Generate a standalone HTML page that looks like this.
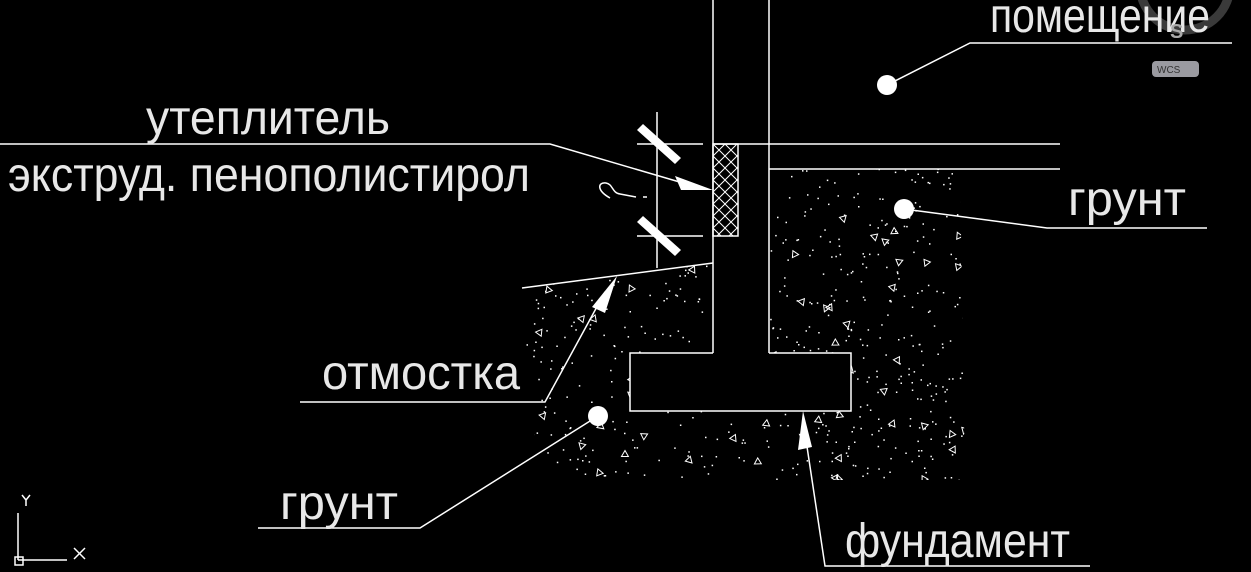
<!DOCTYPE html>
<html><head><meta charset="utf-8"><style>
html,body{margin:0;padding:0;background:#000;width:1251px;height:572px;overflow:hidden}
svg{display:block}
text{font-family:"Liberation Sans",sans-serif;fill:#e8e8e8;font-size:48px}
</style></head><body>
<svg id="s" width="1251" height="572" viewBox="0 0 1251 572" xmlns="http://www.w3.org/2000/svg">
<defs>
<pattern id="h" width="12" height="12" patternUnits="userSpaceOnUse" x="713" y="144">
<path d="M0 0L12 12M12 0L0 12" stroke="#fff" stroke-width="1"/>
</pattern>
<clipPath id="gc">
<path d="M522 288L713 263L713 353L630 353L630 411L851 411L851 353L769 353L769 169L960 169L965 480L540 480L530 400Z"/>
</clipPath>
</defs>
<circle cx="1185" cy="-15" r="45" stroke="#3a3a3a" stroke-width="9" fill="none"/>
<g id="stip" clip-path="url(#gc)"></g>
<g stroke="#fff" stroke-width="1.5" fill="none">
<line x1="713" y1="0" x2="713" y2="353"/>
<line x1="769" y1="0" x2="769" y2="353"/>
<path d="M713 353H630V411H851V353H769"/>
<line x1="713" y1="144" x2="1060" y2="144"/>
<line x1="769" y1="169" x2="1060" y2="169"/>
<rect x="713" y="144" width="25" height="92" fill="url(#h)"/>
<line x1="657" y1="112" x2="657" y2="268"/>
<line x1="637" y1="144" x2="703" y2="144"/>
<line x1="637" y1="236" x2="703" y2="236"/>
<line x1="522" y1="288" x2="713" y2="263"/>
<polyline points="0,144 550,144 700,188"/>
<polyline points="300,402 545,402 605,292"/>
<polyline points="598,416 420,528 258,528"/>
<polyline points="1090,566 825,566 806,440"/>
<polyline points="887,85 970,43 1232,43"/>
<polyline points="904,209 1047,228 1207,228"/>
<line x1="18" y1="513" x2="18" y2="560"/>
<line x1="18" y1="560" x2="67" y2="560"/>
<rect x="15" y="557" width="8" height="8"/>
<path d="M22 495L26 500L30 495M26 500V506"/>
<path d="M74 548L85 559M85 548L74 559"/>
<path d="M610 198C596 190 598 182 606 183C613 184 612 193 620 194L636 197M643 197H647"/>
</g>
<g fill="#fff">
<polygon points="713,190 675,176 681,190"/>
<polygon points="617,276 592,307 605,313"/>
<polygon points="803,411 798,450 812,447"/>
<polygon points="637,130 643,124 681,158 675,164"/>
<polygon points="637,222 643,216 681,250 675,256"/>
<circle cx="887" cy="85" r="10"/>
<circle cx="904" cy="209" r="10"/>
<circle cx="598" cy="416" r="10"/>
</g>
<text x="146" y="134" textLength="244" lengthAdjust="spacingAndGlyphs">утеплитель</text>
<text x="8" y="191" textLength="522" lengthAdjust="spacingAndGlyphs">экструд. пенополистирол</text>
<text x="990" y="32" textLength="220" lengthAdjust="spacingAndGlyphs">помещение</text>
<text x="1068" y="215" textLength="118" lengthAdjust="spacingAndGlyphs">грунт</text>
<text x="322" y="389" textLength="198" lengthAdjust="spacingAndGlyphs">отмостка</text>
<text x="280" y="519" textLength="118" lengthAdjust="spacingAndGlyphs">грунт</text>
<text x="845" y="557" textLength="225" lengthAdjust="spacingAndGlyphs">фундамент</text>
<text x="1170" y="38" style="font-size:20px;fill:#aaa;font-weight:bold">S</text>
<rect x="1152" y="61" width="47" height="16" rx="4" fill="#9a9aa0"/>
<text x="1157" y="73" style="font-size:10px;fill:#333">WCS</text>
</svg>
<script>
(function(){
var g=document.getElementById('stip'),seed=7;
function r(){seed=(seed*16807)%2147483647;return seed/2147483647;}
var h='';
for(var i=0;i<700;i++){var x=520+r()*450,y=165+r()*320;h+='<rect x="'+x.toFixed(1)+'" y="'+y.toFixed(1)+'" width="1.5" height="1.5" fill="#fff"/>';}
for(var j=0;j<80;j++){var x=520+r()*450,y=165+r()*320,a=r()*6.28,s=4;
var p=[];for(var k=0;k<3;k++){p.push((x+s*Math.cos(a+k*2.09)).toFixed(1)+','+(y+s*Math.sin(a+k*2.09)).toFixed(1));}
h+='<polygon points="'+p.join(' ')+'" fill="none" stroke="#fff" stroke-width="1"/>';}
g.innerHTML=h;
})();
</script>
</body></html>
